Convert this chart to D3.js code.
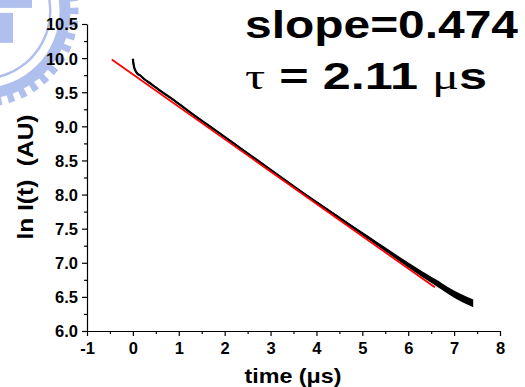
<!DOCTYPE html>
<html>
<head>
<meta charset="utf-8">
<script src="https://cdn.jsdelivr.net/npm/d3@7/dist/d3.min.js"></script>
<style>
  html, body { margin: 0; padding: 0; background: #fff; }
  svg { display: block; }
  text { font-family: "Liberation Sans", Arial, sans-serif; font-weight: bold; }
</style>
</head>
<body>
<svg id="chart" width="525" height="387"></svg>
<script>
// Measured decay: ln I(t) versus time (µs)
const timeUs = [0.00, 0.01, 0.03, 0.06, 0.10, 0.15, 0.25, 0.40, 0.60, 0.90, 1.30, 1.80, 2.30, 2.80, 3.30, 3.80, 4.30, 4.80, 5.30, 5.80, 6.20, 6.60, 7.00, 7.20, 7.40];
const lnI    = [9.99, 9.93, 9.86, 9.81, 9.77, 9.75, 9.69, 9.62, 9.52, 9.38, 9.18, 8.94, 8.70, 8.46, 8.22, 7.98, 7.75, 7.52, 7.29, 7.06, 6.88, 6.71, 6.54, 6.47, 6.41];
// Half-width of the noise band around the measured trace (ln units)
const lnISpread = [0, 0, 0, 0, 0, 0, 0, 0, 0, 0, 0, 0, 0, 0, 0, 0, 0.004, 0.008, 0.014, 0.02, 0.028, 0.034, 0.04, 0.044, 0.046];

// Linear fit: ln I = fitIntercept - fitSlope * t
const fitSlope = 0.474;
const fitIntercept = 9.76;
const fitRange = [-0.46, 6.58];
const tauUs = 2.11;

// Axis ticks
const xTicks = [-1, 0, 1, 2, 3, 4, 5, 6, 7, 8];
const xMinorTicks = [-0.5, 0.5, 1.5, 2.5, 3.5, 4.5, 5.5, 6.5, 7.5];
const yTicks = [6.0, 6.5, 7.0, 7.5, 8.0, 8.5, 9.0, 9.5, 10.0, 10.5];
const yMinorTicks = [6.25, 6.75, 7.25, 7.75, 8.25, 8.75, 9.25, 9.75, 10.25];

const svg = d3.select("#chart");

// Faint background emblem in the upper-left corner
const emblem = svg.append("g").attr("transform", "translate(-17.5,10.9)").attr("fill", "#b0c0ee");
emblem.append("path").attr("d", d3.arc()({innerRadius: 66.5, outerRadius: 69, startAngle: 0, endAngle: 2 * Math.PI}));
emblem.append("path").attr("d", d3.arc()({innerRadius: 77, outerRadius: 88, startAngle: 0, endAngle: 2 * Math.PI}));
d3.range(0, 360, 8).forEach(a => {
  emblem.append("path")
    .attr("d", d3.arc()({innerRadius: 86, outerRadius: 96, startAngle: a * Math.PI / 180, endAngle: (a + 4) * Math.PI / 180}));
});
emblem.append("rect").attr("x", 17.5).attr("y", 2).attr("width", 13).attr("height", 30);
emblem.append("rect").attr("x", 17.5).attr("y", -11).attr("width", 32).attr("height", 8);

const x = d3.scaleLinear().domain([-1, 8]).range([87, 500]);
const y = d3.scaleLinear().domain([6.0, 10.5]).range([331, 24]);

const hyphenFmt = d => String(d).replace("\u2212", "-");

// Bottom axis
const xAxis = svg.append("g").attr("transform", `translate(0,${y(6.0)})`)
  .call(d3.axisBottom(x).tickValues(xTicks).tickSize(5).tickSizeOuter(0).tickPadding(3).tickFormat(hyphenFmt));
svg.append("g").attr("transform", `translate(0,${y(6.0)})`)
  .call(d3.axisBottom(x).tickValues(xMinorTicks).tickSize(3).tickFormat(""))
  .call(g => g.select(".domain").remove());

// Left axis
const yAxis = svg.append("g").attr("transform", `translate(${x(-1)},0)`)
  .call(d3.axisLeft(y).tickValues(yTicks).tickSize(5).tickSizeOuter(0).tickPadding(4).tickFormat(d3.format(".1f")));
svg.append("g").attr("transform", `translate(${x(-1)},0)`)
  .call(d3.axisLeft(y).tickValues(yMinorTicks).tickSize(3).tickFormat(""))
  .call(g => g.select(".domain").remove());

svg.selectAll(".domain").attr("stroke", "#000").attr("stroke-width", 1.2);
svg.selectAll(".tick line").attr("stroke", "#000").attr("stroke-width", 1.2);
svg.selectAll(".tick text")
  .attr("fill", "#000")
  .style("font-family", "'Liberation Sans', Arial, sans-serif")
  .style("font-weight", "bold")
  .style("font-size", "16.5px");
xAxis.selectAll(".tick text").attr("dy", "0.9em");
yAxis.selectAll(".tick text").attr("dy", "0.36em");

// Axis titles
svg.append("text")
  .attr("x", 293).attr("y", 383)
  .attr("text-anchor", "middle")
  .style("font-size", "21px")
  .attr("textLength", 97).attr("lengthAdjust", "spacingAndGlyphs")
  .text("time (\u03bcs)");
svg.append("text")
  .attr("transform", "translate(33,177) rotate(-90)")
  .attr("text-anchor", "middle")
  .style("font-size", "22px")
  .attr("xml:space", "preserve")
  .attr("textLength", 125).attr("lengthAdjust", "spacingAndGlyphs")
  .text("ln I(t)  (AU)");

// Measured trace with its noise band
const band = d3.area()
  .x((d, i) => x(timeUs[i]))
  .y0((d, i) => y(lnI[i] - lnISpread[i]))
  .y1((d, i) => y(lnI[i] + lnISpread[i]))
  .curve(d3.curveMonotoneX);
svg.append("path").datum(lnI).attr("d", band).attr("fill", "#000").attr("stroke", "#000").attr("stroke-width", 1.5);

const trace = d3.line()
  .x((d, i) => x(timeUs[i]))
  .y(d => y(d))
  .curve(d3.curveMonotoneX);
svg.append("path").datum(lnI).attr("d", trace)
  .attr("fill", "none").attr("stroke", "#000").attr("stroke-width", 2.2);

// Fitted line
svg.append("path")
  .datum(fitRange)
  .attr("d", d3.line().x(t => x(t)).y(t => y(fitIntercept - fitSlope * t)))
  .attr("fill", "none").attr("stroke", "#ff0000").attr("stroke-width", 1.8);

// Fit annotation
svg.append("text")
  .attr("x", 245).attr("y", 38)
  .attr("textLength", 273).attr("lengthAdjust", "spacingAndGlyphs")
  .style("font-size", "39px")
  .text(`slope=${fitSlope.toFixed(3)}`);
const tauLine = svg.append("text")
  .attr("x", 245).attr("y", 89)
  .attr("textLength", 242).attr("lengthAdjust", "spacingAndGlyphs")
  .style("font-size", "36px");
tauLine.append("tspan").style("font-family", "'Liberation Serif', serif").style("font-weight", "normal").text("\u03c4");
tauLine.append("tspan").text(` = ${tauUs.toFixed(2)} `);
tauLine.append("tspan").style("font-family", "'Liberation Serif', serif").style("font-weight", "normal").text("\u03bc");
tauLine.append("tspan").text("s");
</script>
</body>
</html>
